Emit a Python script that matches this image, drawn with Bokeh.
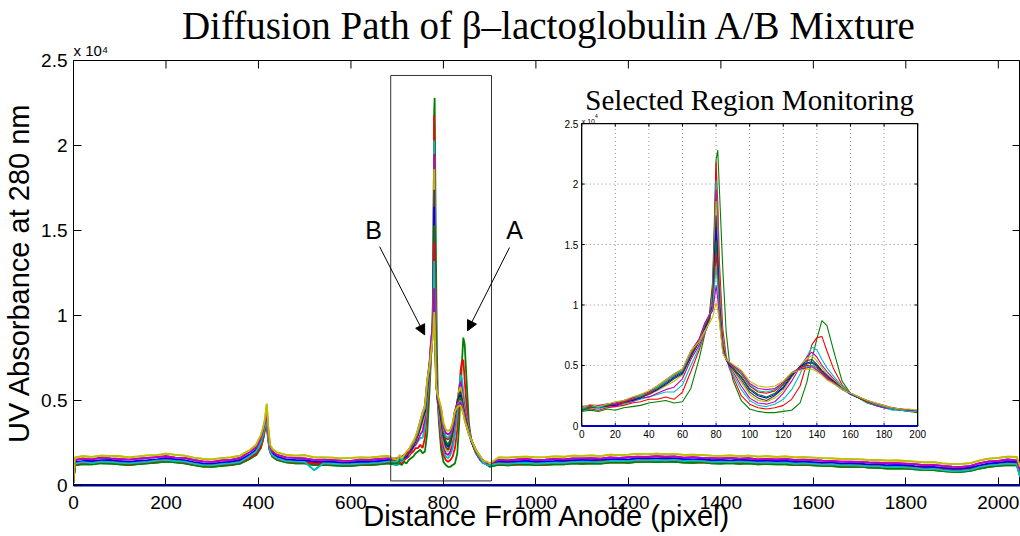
from bokeh.plotting import figure
from bokeh.models import (Range1d, LinearAxis, FixedTicker, CustomJSTickFormatter, Label,
                          Arrow, NormalHead, BoxAnnotation, Title)
from bokeh.core.properties import value
from bokeh.embed import file_html
from bokeh.resources import INLINE

# ---------------- data (raw UV absorbance; axis shows x 10^4) ----------------
SCALE = 1e4
COLORS = {"green": "#008000", "red": "#ff0000", "cyan": "#00bfbf", "magenta": "#bf00bf",
          "yellow": "#bfbf00", "dark": "#404040", "blue": "#0000ff"}

BASE_LEFT_X = [0, 3, 20, 40, 60, 80, 100, 120, 140, 160,
               180, 200, 220, 240, 260, 280, 300, 320, 340, 360,
               380, 395, 405, 410, 414, 418, 421, 425, 430, 440,
               460, 480, 500, 520, 540, 560, 580, 600, 620, 640,
               660, 680]
BASE_RIGHT_X = [920, 940, 960, 980, 1000, 1020, 1040, 1060, 1080, 1100,
                1120, 1140, 1160, 1180, 1200, 1220, 1240, 1260, 1280, 1300,
                1320, 1340, 1360, 1380, 1400, 1420, 1440, 1460, 1480, 1500,
                1520, 1540, 1560, 1580, 1600, 1620, 1640, 1660, 1680, 1700,
                1720, 1740, 1760, 1780, 1800, 1820, 1840, 1860, 1880, 1900,
                1920, 1940, 1960, 1980, 2000, 2020, 2040, 2047]

BASE_LEFT = {
    "yellow": [200, 1650, 1720, 1680, 1760, 1740, 1720, 1660, 1710, 1770,
               1790, 1880, 1800, 1760, 1640, 1560, 1540, 1610, 1660, 1760,
               2050, 2400, 2950, 3400, 3900, 4800, 3500, 2400, 2150, 1950,
               1800, 1760, 1780, 1650, 1660, 1640, 1600, 1620, 1660, 1640,
               1700, 1740],
    "magenta": [200, 1500, 1580, 1530, 1640, 1590, 1560, 1520, 1580, 1620,
                1670, 1720, 1640, 1620, 1500, 1420, 1390, 1470, 1500, 1620,
                1950, 2250, 2750, 3250, 3750, 4300, 3200, 2250, 2000, 1800,
                1660, 1620, 1600, 1510, 1520, 1490, 1460, 1450, 1520, 1500,
                1560, 1600],
    "cyan": [200, 1280, 1370, 1320, 1410, 1380, 1330, 1300, 1340, 1390,
             1460, 1490, 1440, 1400, 1280, 1200, 1180, 1260, 1300, 1380,
             1700, 2000, 2500, 3000, 3500, 3800, 2850, 1980, 1780, 1600,
             1430, 1400, 1390, 900, 1300, 1280, 1240, 1250, 1290, 1300,
             1330, 1400],
    "dark": [200, 1330, 1410, 1400, 1430, 1460, 1380, 1360, 1390, 1450,
             1490, 1560, 1500, 1430, 1350, 1260, 1240, 1300, 1360, 1440,
             1760, 2050, 2550, 3050, 3550, 4200, 2950, 2050, 1850, 1650,
             1500, 1440, 1450, 1350, 1340, 1350, 1300, 1300, 1350, 1340,
             1400, 1450],
    "blue": [200, 1380, 1440, 1450, 1490, 1500, 1440, 1390, 1460, 1490,
             1540, 1610, 1540, 1490, 1380, 1300, 1290, 1340, 1410, 1500,
             1800, 2100, 2600, 3100, 3600, 4000, 3000, 2100, 1900, 1700,
             1540, 1500, 1490, 1400, 1390, 1410, 1340, 1360, 1400, 1390,
             1440, 1500],
    "red": [200, 1260, 1340, 1320, 1390, 1370, 1340, 1270, 1330, 1380,
            1430, 1480, 1430, 1380, 1280, 1180, 1190, 1240, 1280, 1360,
            1600, 1900, 2300, 2900, 3400, 3600, 2700, 1950, 1760, 1570,
            1440, 1380, 1370, 1290, 1280, 1270, 1240, 1230, 1270, 1290,
            1320, 1380],
    "green": [200, 1190, 1260, 1240, 1310, 1290, 1250, 1200, 1260, 1300,
              1350, 1400, 1360, 1300, 1200, 1110, 1100, 1160, 1200, 1290,
              1550, 1800, 2200, 2700, 3300, 3900, 2900, 2000, 1700, 1500,
              1360, 1300, 1300, 1200, 1210, 1190, 1150, 1160, 1200, 1200,
              1250, 1300],
}

BASE_RIGHT = {
    "yellow": [1660, 1640, 1680, 1700, 1650, 1670, 1710, 1690, 1760, 1740,
               1770, 1730, 1810, 1790, 1820, 1860, 1830, 1870, 1840, 1860,
               1800, 1820, 1790, 1760, 1740, 1770, 1730, 1760, 1700, 1720,
               1680, 1710, 1650, 1670, 1640, 1610, 1590, 1560, 1550, 1540,
               1510, 1500, 1460, 1470, 1440, 1410, 1360, 1370, 1300, 1260,
               1270, 1320, 1480, 1580, 1620, 1700, 1680, 1100],
    "magenta": [1510, 1480, 1530, 1560, 1490, 1520, 1570, 1540, 1600, 1590,
                1610, 1580, 1660, 1630, 1670, 1700, 1680, 1720, 1690, 1710,
                1640, 1670, 1630, 1610, 1590, 1620, 1580, 1610, 1540, 1570,
                1530, 1560, 1500, 1520, 1490, 1460, 1440, 1410, 1400, 1390,
                1360, 1340, 1310, 1320, 1290, 1260, 1200, 1210, 1150, 1110,
                1100, 1160, 1320, 1420, 1450, 1530, 1480, 900],
    "cyan": [1300, 1270, 1320, 1330, 1280, 1310, 1340, 1330, 1380, 1410,
             1390, 1380, 1440, 1450, 1430, 1490, 1480, 1500, 1470, 1510,
             1440, 1460, 1430, 1380, 1400, 1370, 1410, 1380, 1340, 1360,
             1330, 1350, 1280, 1300, 1270, 1230, 1250, 1180, 1190, 1170,
             1140, 1130, 1080, 1090, 1070, 1020, 950, 980, 900, 850,
             860, 920, 1080, 1180, 1230, 1290, 1260, 500],
    "dark": [1340, 1370, 1330, 1400, 1360, 1330, 1400, 1420, 1440, 1460,
             1440, 1470, 1480, 1510, 1500, 1540, 1560, 1530, 1570, 1540,
             1500, 1480, 1510, 1440, 1460, 1430, 1470, 1440, 1390, 1410,
             1390, 1400, 1340, 1360, 1330, 1290, 1310, 1240, 1260, 1250,
             1190, 1210, 1140, 1160, 1150, 1090, 1060, 1040, 1000, 960,
             940, 1000, 1140, 1250, 1300, 1340, 1360, 750],
    "blue": [1410, 1380, 1420, 1460, 1400, 1420, 1440, 1470, 1490, 1510,
             1490, 1520, 1540, 1560, 1540, 1590, 1610, 1580, 1620, 1590,
             1560, 1540, 1570, 1490, 1510, 1480, 1520, 1490, 1440, 1460,
             1440, 1460, 1390, 1410, 1380, 1340, 1360, 1290, 1310, 1290,
             1240, 1260, 1190, 1210, 1190, 1140, 1110, 1090, 1040, 1000,
             990, 1060, 1190, 1300, 1340, 1400, 1390, 800],
    "red": [1280, 1300, 1270, 1330, 1290, 1270, 1340, 1320, 1370, 1390,
            1370, 1400, 1420, 1440, 1420, 1480, 1470, 1490, 1460, 1490,
            1430, 1440, 1410, 1390, 1370, 1400, 1360, 1390, 1320, 1340,
            1320, 1330, 1270, 1290, 1260, 1230, 1220, 1190, 1170, 1180,
            1130, 1120, 1080, 1090, 1070, 1030, 980, 990, 930, 880,
            880, 940, 1080, 1170, 1230, 1280, 1270, 650],
    "green": [1210, 1190, 1230, 1240, 1200, 1210, 1250, 1240, 1300, 1280,
              1310, 1290, 1340, 1360, 1330, 1390, 1400, 1380, 1410, 1390,
              1350, 1330, 1360, 1300, 1290, 1320, 1280, 1300, 1250, 1260,
              1240, 1250, 1200, 1210, 1190, 1150, 1140, 1100, 1090, 1110,
              1050, 1040, 1000, 1010, 990, 950, 900, 910, 850, 800,
              810, 860, 1000, 1100, 1150, 1200, 1190, 600],
}

# selected region (pixel 700..900 of the main trace), inset x = pixel - REGION_START
REGION_START = 700
INSET_X = [0, 5, 10, 15, 20, 25, 30, 35, 40, 45,
           50, 55, 60, 65, 70, 73, 76, 78, 79, 80,
           81, 82, 84, 86, 88, 90, 95, 100, 105, 110,
           115, 120, 125, 130, 134, 137, 140, 143, 146, 150,
           155, 160, 165, 170, 175, 180, 185, 190, 195, 200]

SERIES_COLORS = ["green", "red", "cyan", "magenta", "yellow", "dark", "blue",
                 "green", "red", "cyan", "magenta", "yellow"]
INSET_SERIES = [
    [1200, 1300, 1200, 1400, 1300, 1500, 1600, 1700, 1900, 2000,
     2100, 1900, 2000, 3100, 5600, 7400, 9200, 12000, 17000, 22000,
     22800, 19500, 13000, 7800, 5200, 3800, 2100, 1400, 1200, 1100,
     1100, 1200, 1300, 1900, 3600, 5500, 7200, 8700, 8300, 6200,
     3700, 2700, 2300, 1900, 1700, 1500, 1400, 1300, 1200, 1100],
    [1300, 1400, 1300, 1500, 1600, 1700, 1900, 2000, 2200, 2200,
     2400, 2200, 2800, 4500, 6300, 7600, 8800, 11500, 16000, 21800,
     18500, 13500, 8000, 5800, 4700, 4100, 2500, 1800, 1500, 1400,
     1500, 1700, 2200, 3300, 5200, 6700, 7300, 7400, 6200, 4700,
     3400, 2700, 2300, 2000, 1700, 1500, 1400, 1300, 1200, 1200],
    [1200, 1500, 1400, 1600, 1700, 1800, 2000, 2200, 2400, 2600,
     2800, 2800, 3400, 5000, 6500, 7600, 8600, 11000, 15500, 20300,
     17000, 12000, 7200, 5600, 4800, 4300, 3000, 2100, 1700, 1600,
     1800, 2200, 3000, 4300, 5700, 6500, 6300, 5500, 4800, 4100,
     3300, 2700, 2300, 1900, 1700, 1500, 1300, 1300, 1200, 1200],
    [1500, 1600, 1500, 1700, 1600, 1900, 2000, 2300, 2400, 2700,
     3000, 3200, 3900, 5500, 6700, 7600, 8600, 10500, 15000, 19500,
     16000, 11500, 7000, 5500, 4900, 4500, 3300, 2300, 1900, 1800,
     2000, 2700, 3700, 4900, 5700, 6100, 5700, 5000, 4500, 3900,
     3200, 2700, 2300, 2000, 1700, 1500, 1400, 1300, 1300, 1200],
    [1400, 1700, 1500, 1700, 1800, 1900, 2100, 2300, 2600, 2900,
     3300, 3700, 4200, 5700, 6900, 7700, 8700, 10200, 14500, 18600,
     15000, 11000, 6800, 5500, 5000, 4600, 3600, 2600, 2100, 2000,
     2300, 2900, 4000, 5000, 5600, 5800, 5400, 4800, 4300, 3800,
     3200, 2700, 2400, 2000, 1800, 1600, 1400, 1400, 1300, 1200],
    [1300, 1500, 1600, 1600, 1800, 1900, 2100, 2400, 2600, 3000,
     3400, 3900, 4300, 5700, 7000, 7900, 8800, 10000, 14000, 17400,
     14200, 10500, 6600, 5500, 5000, 4700, 3800, 2800, 2300, 2100,
     2500, 3100, 4100, 4900, 5400, 5500, 5100, 4600, 4200, 3700,
     3100, 2700, 2300, 2100, 1800, 1600, 1500, 1300, 1300, 1200],
    [1400, 1600, 1500, 1700, 1700, 2000, 2100, 2300, 2700, 3000,
     3500, 4000, 4400, 5800, 7000, 8000, 9000, 10000, 13500, 16400,
     13500, 10000, 6500, 5500, 5000, 4800, 4000, 3000, 2500, 2300,
     2600, 3200, 4200, 4900, 5200, 5300, 5000, 4500, 4100, 3700,
     3100, 2600, 2300, 2000, 1800, 1600, 1400, 1400, 1200, 1200],
    [1300, 1500, 1600, 1700, 1800, 2000, 2200, 2400, 2700, 3100,
     3600, 4100, 4500, 5900, 7000, 8200, 9000, 9800, 12500, 15300,
     12800, 9800, 6400, 5500, 5100, 4800, 4100, 3100, 2600, 2400,
     2700, 3400, 4300, 4800, 5100, 5200, 4900, 4400, 4000, 3600,
     3100, 2700, 2300, 2000, 1800, 1600, 1500, 1300, 1300, 1200],
    [1500, 1600, 1600, 1800, 1800, 2000, 2200, 2500, 2700, 3200,
     3700, 4200, 4600, 6000, 7100, 8300, 9100, 9700, 12000, 14300,
     12200, 9500, 6300, 5500, 5200, 4900, 4300, 3300, 2800, 2700,
     2900, 3500, 4400, 4800, 5000, 5000, 4800, 4400, 4000, 3600,
     3100, 2700, 2400, 2000, 1800, 1600, 1500, 1400, 1300, 1300],
    [1400, 1700, 1500, 1800, 1900, 2100, 2300, 2500, 2800, 3200,
     3700, 4200, 4600, 6100, 7200, 8400, 9200, 9600, 11500, 13200,
     11500, 9200, 6200, 5500, 5200, 5000, 4400, 3400, 2900, 2800,
     3000, 3600, 4400, 4700, 4900, 5000, 4700, 4300, 3900, 3500,
     3100, 2700, 2400, 2100, 1800, 1600, 1400, 1300, 1200, 1200],
    [1600, 1700, 1700, 1800, 1900, 2100, 2300, 2600, 2800, 3300,
     3800, 4300, 4700, 6200, 7200, 8400, 9200, 9500, 10500, 11600,
     10500, 8800, 6100, 5500, 5200, 5000, 4500, 3500, 3100, 3000,
     3100, 3600, 4400, 4700, 4800, 4900, 4600, 4300, 3900, 3500,
     3000, 2700, 2400, 2100, 1900, 1700, 1500, 1400, 1300, 1300],
    [1500, 1800, 1600, 1800, 2000, 2100, 2400, 2600, 2900, 3300,
     3800, 4300, 4700, 6200, 7000, 7800, 8500, 9000, 9600, 10200,
     9600, 8500, 6000, 5500, 5300, 5100, 4600, 3700, 3300, 3200,
     3300, 3700, 4400, 4600, 4700, 4700, 4500, 4200, 3800, 3500,
     3000, 2700, 2400, 2100, 1900, 1700, 1500, 1400, 1400, 1300],
]
ZERO_X = [0, 2048]
ZERO_Y = [0, 0]

X_TICKS = [0, 200, 400, 600, 800, 1000, 1200, 1400, 1600, 1800, 2000]
Y_TICKS = [0, 0.5, 1, 1.5, 2, 2.5]
Y_TICK_LABELS = ["0", "0.5", "1", "1.5", "2", "2.5"]
INSET_X_TICKS = [0, 20, 40, 60, 80, 100, 120, 140, 160, 180, 200]

# ---------------- layout constants ----------------
SANS = "Liberation Sans"
SERIF = "Liberation Serif"
X_END = 2048
Y_END = 2.5
SEL_BOX = dict(left=686, right=904, bottom=0.027, top=2.412)
INSET_BOX = dict(x0=1099, x1=1825.6, y0=0.3504, y1=2.129)
INSET_TITLE_Y = 2.266
TICK_DX = 17.3     # 8 px inward tick on the right spine, in data units
TICK_DY = 0.047    # 8 px inward tick on the top spine, in data units

p = figure(width=1020, height=536, output_backend="svg", toolbar_location=None,
           x_range=Range1d(0, X_END), y_range=Range1d(0, Y_END),
           min_border_left=72, min_border_right=0, min_border_top=60, min_border_bottom=51,
           x_axis_location=None, y_axis_location=None)
p.outline_line_color = "black"
p.outline_line_width = 1
p.xgrid.grid_line_color = None
p.ygrid.grid_line_color = None
p.background_fill_color = "white"
p.border_fill_color = "white"

xt = FixedTicker(ticks=X_TICKS)
yt = FixedTicker(ticks=Y_TICKS)
yfmt = CustomJSTickFormatter(args=dict(t=Y_TICKS, l=Y_TICK_LABELS),
                             code="const i = t.indexOf(tick); return i >= 0 ? l[i] : String(tick);")


def style_axis(ax):
    ax.major_tick_in = 8
    ax.major_tick_out = 0
    ax.minor_tick_in = 0
    ax.minor_tick_out = 0
    ax.axis_line_color = "black"
    ax.axis_line_width = 1
    ax.major_tick_line_color = "black"
    ax.major_label_text_font = SANS
    ax.major_label_text_color = "black"
    ax.major_label_text_font_size = "19px"
    ax.major_label_standoff = 6
    ax.axis_label_text_font = SANS
    ax.axis_label_text_font_size = "29px"
    ax.axis_label_text_font_style = "normal"
    ax.axis_label_text_color = "black"


bottom = LinearAxis(ticker=xt, axis_label="Distance From Anode (pixel)")
style_axis(bottom)
bottom.axis_line_color = "#00008b"
bottom.axis_line_width = 2
bottom.major_label_standoff = 10
bottom.axis_label_standoff = -12
p.add_layout(bottom, "below")

left = LinearAxis(ticker=yt, formatter=yfmt, axis_label="UV Absorbance at 280 nm")
style_axis(left)
left.axis_label_standoff = 3
p.add_layout(left, "left")

# multiplier and title above the frame
p.add_layout(Title(text="x 10\u2074", align="left", text_font=SANS, text_font_size="15px",
                   text_font_style="normal", text_color="black", standoff=3), "above")
title_kw = dict(standoff=-11)
if "padding" in Title.properties():
    title_kw = dict(standoff=-16, padding=(5, 0, 0, 0))
p.add_layout(Title(text="Diffusion Path of β–lactoglobulin A/B Mixture", align="center",
                   text_font=SERIF, text_font_size="39px", text_font_style="normal",
                   text_color="black", **title_kw), "above")

# inward ticks on top and right spines
p.segment(x0=X_TICKS, y0=[Y_END] * len(X_TICKS), x1=X_TICKS, y1=[Y_END - TICK_DY] * len(X_TICKS),
          line_color="black", line_width=1)
p.segment(x0=[X_END] * len(Y_TICKS), y0=Y_TICKS, x1=[X_END - TICK_DX] * len(Y_TICKS), y1=Y_TICKS,
          line_color="black", line_width=1)

# ---------------- main traces ----------------
for cname, vals in zip(SERIES_COLORS, INSET_SERIES):
    xs = BASE_LEFT_X + [REGION_START + x for x in INSET_X] + BASE_RIGHT_X
    ys = [v / SCALE for v in BASE_LEFT[cname] + vals + BASE_RIGHT[cname]]
    p.line(xs, ys, line_color=COLORS[cname], line_width=1.8)
p.line(ZERO_X, ZERO_Y, line_color="#00008b", line_width=3)

# selected region box
p.add_layout(BoxAnnotation(fill_alpha=0, fill_color=None, line_color="#333333",
                           line_width=1, line_alpha=1, **SEL_BOX))

# ---------------- inset ----------------
ins = p.subplot(x_source=Range1d(0, 200), y_source=Range1d(0, Y_END),
                x_target=Range1d(INSET_BOX["x0"], INSET_BOX["x1"]),
                y_target=Range1d(INSET_BOX["y0"], INSET_BOX["y1"]))
gx = INSET_X_TICKS[1:-1]
gy = Y_TICKS[1:-1]
ins.segment(x0=gx, y0=[0] * len(gx), x1=gx, y1=[Y_END] * len(gx),
            line_color="#8c8c8c", line_dash="1 3", line_width=1)
ins.segment(x0=[0] * len(gy), y0=gy, x1=[200] * len(gy), y1=gy,
            line_color="#8c8c8c", line_dash="1 3", line_width=1)
for cname, vals in zip(SERIES_COLORS, INSET_SERIES):
    ins.line(INSET_X, [v / SCALE for v in vals], line_color=COLORS[cname], line_width=1.1)
ins.quad(left=[0], right=[200], bottom=[0], top=[Y_END], fill_color=None,
         line_color="black", line_width=1.3)
tkx = 1.8
tky = 0.026
ins.segment(x0=INSET_X_TICKS, y0=[0] * 11, x1=INSET_X_TICKS, y1=[tky] * 11, line_color="black")
ins.segment(x0=INSET_X_TICKS, y0=[Y_END] * 11, x1=INSET_X_TICKS, y1=[Y_END - tky] * 11, line_color="black")
ins.segment(x0=[0] * 6, y0=Y_TICKS, x1=[tkx] * 6, y1=Y_TICKS, line_color="black")
ins.segment(x0=[200] * 6, y0=Y_TICKS, x1=[200 - tkx] * 6, y1=Y_TICKS, line_color="black")
ins.line([0, 200], ZERO_Y, line_color="#0000cc", line_width=2)
ins.text(x=INSET_X_TICKS, y=[-0.03] * 11, text=[str(t) for t in INSET_X_TICKS],
         text_align="center", text_baseline="top", text_font=value(SANS),
         text_font_size="10px", text_color="black")
ins.text(x=[-2] * 6, y=Y_TICKS, text=Y_TICK_LABELS, text_align="right", text_baseline="middle",
         text_font=value(SANS), text_font_size="10px", text_color="black")
ins.text(x=[0], y=[Y_END + 0.02], text=["x 10"], text_align="left", text_baseline="alphabetic",
         text_font=value(SANS), text_font_size="7px", text_color="black")
ins.text(x=[8], y=[Y_END + 0.06], text=["4"], text_align="left", text_baseline="alphabetic",
         text_font=value(SANS), text_font_size="5px", text_color="black")
p.add_layout(Label(x=(INSET_BOX["x0"] + INSET_BOX["x1"]) / 2, y=INSET_TITLE_Y,
                   text="Selected Region Monitoring", text_font=SERIF, text_font_size="29px",
                   text_align="center", text_baseline="alphabetic", text_color="black"))

# peak annotations
ANNOT = [("B", 649, 1.505, 662, 1.405, 759.5, 0.886),
         ("A", 954, 1.505, 943, 1.40, 852, 0.91)]
for txt, tx, ty, xs0, ys0, xe, ye in ANNOT:
    p.add_layout(Label(x=tx, y=ty, text=txt, text_font=SANS, text_font_size="25px",
                       text_align="center", text_baseline="middle", text_color="black"))
    p.add_layout(Arrow(x_start=xs0, y_start=ys0, x_end=xe, y_end=ye, line_color="black",
                       line_width=1, end=NormalHead(size=10, fill_color="black",
                                                    line_color="black")))

open("out.html", "w").write(file_html(p, INLINE))
